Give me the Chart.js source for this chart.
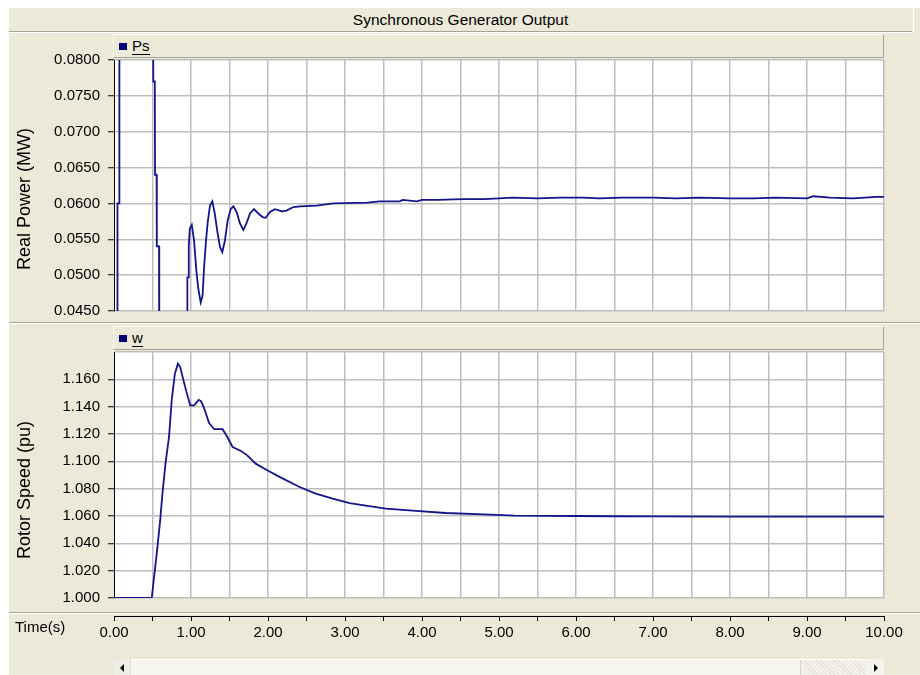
<!DOCTYPE html>
<html>
<head>
<meta charset="utf-8">
<script src="https://cdn.jsdelivr.net/npm/chart.js@4.4.1/dist/chart.umd.min.js"></script>
<style>
  html, body { margin: 0; padding: 0; background: #ffffff; }
  body { width: 920px; height: 675px; position: relative; overflow: hidden; font-family: "Liberation Sans", Arial, sans-serif; }
  .abs { position: absolute; }
  #panel { left: 9px; top: 8px; width: 911px; height: 667px; background: #ECE9D8; }
  #titlebar { left: 9px; top: 8px; width: 903px; height: 23px; background: #ECE9D8; border-bottom: 1px solid #A7A493; box-shadow: 0 1px 0 #ffffff; font-size: 15.5px; line-height: 23px; text-align: center; color: #000; z-index: 2; }
  #titleright { left: 913px; top: 8px; width: 7px; height: 23px; border-left: 1px solid #ffffff; background: #ECE9D8; }
  .legend { left: 113px; width: 769px; height: 22px; background: #ECE9D8; border-top: 1px solid #fbfaf5; border-left: 1px solid #fbfaf5; border-right: 1px solid #A7A493; border-bottom: 1px solid #A7A493; z-index: 2; }
  .legend .sw { position: absolute; left: 5px; top: 8px; width: 8px; height: 7px; background: #00007A; }
  .legend .tx { position: absolute; left: 18px; top: 2px; font-size: 15px; line-height: 17px; color: #000; border-bottom: 1px solid #000; }
  .sep { left: 9px; width: 911px; height: 1px; background: #A7A493; box-shadow: 0 1px 0 #ffffff; z-index: 2; }
  .ytitle { font-size: 18px; color: #000; white-space: nowrap; transform: translate(-50%, -50%) rotate(-90deg); z-index: 2; }
  canvas { position: absolute; z-index: 1; }
  #timelbl { left: 15px; top: 618px; font-size: 15px; line-height: 18px; color: #000; z-index: 2; }
  #sb { left: 114px; top: 659px; width: 770px; height: 16px; background: #F6F5EE; border-top: 1px solid #ffffff; z-index: 2; }
  #sbl { left: 114px; top: 659px; width: 16px; height: 16px; background: #EEEDE5; z-index: 3; border-right: 1px solid #E0DED2; }
  #sbthumb { left: 800px; top: 660px; width: 66px; height: 15px; background: repeating-linear-gradient(45deg, #E4E2D6 0 1px, #F4F3EC 1px 3px); border-left: 1px solid #D8D6CA; z-index: 3; }
  #sbr { left: 866px; top: 659px; width: 18px; height: 16px; background: #F4F3EE; z-index: 3; }
  .tri { position: absolute; top: 5px; width: 0; height: 0; border-top: 4px solid transparent; border-bottom: 4px solid transparent; }
</style>
</head>
<body>
<div id="panel" class="abs"></div>
<div id="titlebar" class="abs">Synchronous Generator Output</div>
<div id="titleright" class="abs"></div>

<div class="legend abs" style="top:34px;"><div class="sw"></div><div class="tx">Ps</div></div>
<div class="sep abs" style="top:322px;"></div>
<div class="legend abs" style="top:326px;"><div class="sw"></div><div class="tx">w</div></div>
<div class="sep abs" style="top:612px;"></div>

<div class="ytitle abs" style="left:24px; top:199px;">Real Power (MW)</div>
<div class="ytitle abs" style="left:24px; top:490px;">Rotor Speed (pu)</div>
<div id="timelbl" class="abs">Time(s)</div>

<div id="sb" class="abs"></div>
<div id="sbl" class="abs"><div class="tri" style="left:6px; border-right:4px solid #000;"></div></div>
<div id="sbthumb" class="abs"></div>
<div id="sbr" class="abs"><div class="tri" style="left:8px; border-left:4px solid #000;"></div></div>

<canvas id="cPs" style="left:0px; top:40px;" width="900" height="291"></canvas>
<canvas id="cW" style="left:0px; top:330px;" width="900" height="288"></canvas>
<canvas id="cT" style="left:0px; top:600px;" width="920" height="60"></canvas>

<script>
// ---------------- data ----------------
const psTime = [0.00, 0.040, 0.045, 0.065, 0.070, 0.505, 0.510, 0.530, 0.533, 0.553, 0.556, 0.585, 0.588, 0.950, 0.953, 0.968, 0.971, 0.985, 1.010, 1.040, 1.070, 1.095, 1.126, 1.150, 1.170, 1.195, 1.217, 1.247, 1.277, 1.310, 1.340, 1.377, 1.406, 1.440, 1.476, 1.515, 1.550, 1.593, 1.636, 1.680, 1.720, 1.766, 1.818, 1.874, 1.930, 1.970, 2.026, 2.090, 2.180, 2.240, 2.330, 2.420, 2.630, 2.850, 3.290, 3.450, 3.710, 3.750, 3.930, 4.000, 4.200, 4.530, 4.800, 5.000, 5.180, 5.500, 5.800, 6.100, 6.300, 6.600, 7.000, 7.300, 7.600, 8.000, 8.300, 8.600, 9.000, 9.080, 9.300, 9.600, 9.900, 10.000];
const psPower = [0.0000, 0.0000, 0.0600, 0.0600, 0.1200, 0.1200, 0.0770, 0.0770, 0.0640, 0.0640, 0.0540, 0.0540, 0.0300, 0.0300, 0.0497, 0.0497, 0.0541, 0.0565, 0.0570, 0.0548, 0.0506, 0.0481, 0.0462, 0.0471, 0.0511, 0.0548, 0.0574, 0.0597, 0.0603, 0.0585, 0.0562, 0.0539, 0.0532, 0.0548, 0.0576, 0.0592, 0.0596, 0.0588, 0.0572, 0.0563, 0.0572, 0.0586, 0.0592, 0.0586, 0.0581, 0.0580, 0.0588, 0.0592, 0.0589, 0.0590, 0.0595, 0.0596, 0.0597, 0.0600, 0.0601, 0.0603, 0.0603, 0.0605, 0.0603, 0.0605, 0.0605, 0.0606, 0.0606, 0.0607, 0.0608, 0.0607, 0.0608, 0.0608, 0.0607, 0.0608, 0.0608, 0.0607, 0.0608, 0.0607, 0.0607, 0.0608, 0.0607, 0.0610, 0.0608, 0.0607, 0.0609, 0.0609];

const wTime = [0.00, 0.49, 0.52, 0.56, 0.60, 0.63, 0.67, 0.715, 0.75, 0.79, 0.83, 0.86, 0.89, 0.94, 0.99, 1.04, 1.10, 1.13, 1.17, 1.235, 1.30, 1.41, 1.47, 1.54, 1.65, 1.73, 1.84, 1.99, 2.15, 2.41, 2.62, 2.84, 3.06, 3.27, 3.53, 3.92, 4.31, 4.80, 5.20, 5.60, 6.00, 6.50, 7.00, 8.00, 9.00, 10.00];
const wSpeed = [1.000, 1.000, 1.015, 1.035, 1.057, 1.077, 1.099, 1.118, 1.145, 1.164, 1.1715, 1.169, 1.162, 1.151, 1.141, 1.141, 1.145, 1.144, 1.139, 1.128, 1.1235, 1.1235, 1.118, 1.1105, 1.1076, 1.1044, 1.0983, 1.0935, 1.0886, 1.0812, 1.0764, 1.0727, 1.0695, 1.0676, 1.0654, 1.0637, 1.0622, 1.0612, 1.0603, 1.0601, 1.0600, 1.0598, 1.0597, 1.0596, 1.0595, 1.0595];

const timeTicks = [0, 0.5, 1, 1.5, 2, 2.5, 3, 3.5, 4, 4.5, 5, 5.5, 6, 6.5, 7, 7.5, 8, 8.5, 9, 9.5, 10];
const timeLabels = ['0.00', '', '1.00', '', '2.00', '', '3.00', '', '4.00', '', '5.00', '', '6.00', '', '7.00', '', '8.00', '', '9.00', '', '10.00'];
const powerTicks = [0.045, 0.050, 0.055, 0.060, 0.065, 0.070, 0.075, 0.080];
const powerLabels = ['0.0450', '0.0500', '0.0550', '0.0600', '0.0650', '0.0700', '0.0750', '0.0800'];
const speedTicks = [1.00, 1.02, 1.04, 1.06, 1.08, 1.10, 1.12, 1.14, 1.16, 1.18];
const speedLabels = ['1.000', '1.020', '1.040', '1.060', '1.080', '1.100', '1.120', '1.140', '1.160', ''];

// ---------------- styling ----------------
const GRID = '#BDBDBD';
const LINE = '#14148C';
const FONT = { family: '"Liberation Sans", Arial, sans-serif', size: 15 };

const whiteArea = {
  id: 'whiteArea',
  beforeDraw(chart) {
    const a = chart.chartArea, c = chart.ctx;
    c.save(); c.fillStyle = '#ffffff';
    c.fillRect(a.left, a.top, a.right - a.left, a.bottom - a.top);
    c.restore();
  }
};

function xScale() {
  return {
    type: 'linear', min: 0, max: 10,
    afterBuildTicks: s => { s.ticks = timeTicks.map(v => ({ value: v })); },
    ticks: { display: false },
    grid: { color: c => (c.tick && c.tick.value === 0) ? 'rgba(0,0,0,0)' : GRID, lineWidth: 1.5, drawTicks: false },
    border: { display: false },
    afterFit: s => { s.height = 0; }
  };
}

function yScale(min, max, vals, labels) {
  return {
    type: 'linear', min: min, max: max,
    afterBuildTicks: s => { s.ticks = vals.map(v => ({ value: v })); },
    ticks: {
      font: FONT, color: '#000', padding: 8, autoSkip: false,
      callback: (v, i) => labels[i]
    },
    grid: { color: GRID, lineWidth: 1.5, tickLength: 6, tickColor: c => (c.tick && labels[c.index] === '') ? 'rgba(0,0,0,0)' : '#000', tickWidth: 1 },
    border: { color: '#000', width: 1 },
    afterFit: s => { s.width = 114; }
  };
}

function lineChart(id, xs, ys, yOpts, pad) {
  return new Chart(document.getElementById(id), {
    type: 'line',
    data: { datasets: [{ data: xs.map((t, i) => ({ x: t, y: ys[i] })), borderColor: LINE, borderWidth: 1.8, pointRadius: 0, tension: 0, fill: false }] },
    options: {
      responsive: false, animation: false, events: [],
      layout: { padding: pad },
      plugins: { legend: { display: false }, tooltip: { enabled: false }, title: { display: false } },
      scales: { x: xScale(), y: yOpts }
    },
    plugins: [whiteArea]
  });
}

// chart area: Ps 60 -> 311 ; w 352 -> 598 (page coordinates)
lineChart('cPs', psTime, psPower, yScale(0.045, 0.080, powerTicks, powerLabels), { left: 0, top: 20, right: 16, bottom: 20 });
lineChart('cW', wTime, wSpeed, yScale(1.0, 1.18, speedTicks, speedLabels), { left: 0, top: 22, right: 16, bottom: 20 });

// time axis
new Chart(document.getElementById('cT'), {
  type: 'line',
  data: { datasets: [{ data: [], pointRadius: 0 }] },
  options: {
    responsive: false, animation: false, events: [],
    layout: { padding: { left: 114, right: 36, top: 5, bottom: 0 } },
    plugins: { legend: { display: false }, tooltip: { enabled: false } },
    scales: {
      x: {
        type: 'linear', min: 0, max: 10,
        afterBuildTicks: s => { s.ticks = timeTicks.map(v => ({ value: v })); },
        ticks: { font: FONT, color: '#000', padding: 3, autoSkip: false, maxRotation: 0, callback: (v, i) => timeLabels[i] },
        grid: { drawOnChartArea: false, tickLength: 5, tickColor: '#000', tickWidth: 1 },
        border: { color: '#000', width: 1 },
        afterFit: s => { s.height = 44; }
      },
      y: { display: false, min: 0, max: 1 }
    }
  }
});
</script>
</body>
</html>
